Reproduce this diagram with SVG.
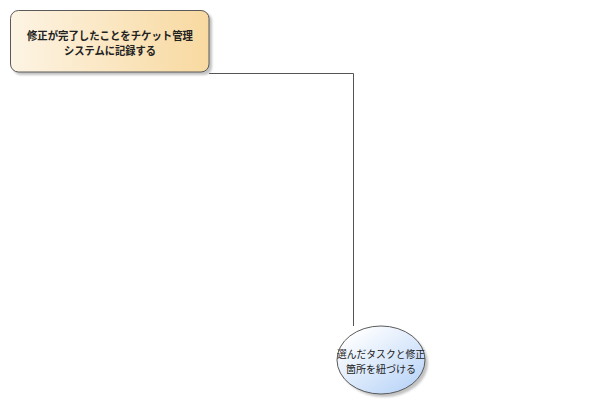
<svg xmlns="http://www.w3.org/2000/svg" width="608" height="406" viewBox="0 0 608 406">
<defs>
<linearGradient id="gAct" x1="0" y1="0" x2="1" y2="0">
<stop offset="0" stop-color="#fdf4e4"/>
<stop offset="1" stop-color="#f8d9a0"/>
</linearGradient>
<linearGradient id="gUC" x1="0.15" y1="0.1" x2="0.85" y2="0.9">
<stop offset="0" stop-color="#ffffff"/>
<stop offset="1" stop-color="#bcd6f8"/>
</linearGradient>
<filter id="sh" x="-10%" y="-10%" width="130%" height="130%">
<feGaussianBlur stdDeviation="1"/>
</filter>
<style>
.shadow{fill:#9a9a9a;opacity:0.6;filter:url(#sh)}
.box{fill:url(#gAct);stroke:#5a5a5a;stroke-width:1}
.uc{fill:url(#gUC);stroke:#5a5a5a;stroke-width:1}
.t{font-family:"Noto Sans CJK JP","Noto Sans",sans-serif;font-size:11px;fill:#222;text-anchor:middle}
.s{font-size:10.5px}
.b{font-weight:bold}
.conn{fill:none;stroke:#555;stroke-width:1}
</style>
</defs>
<rect width="608" height="406" fill="#ffffff"/>
<g id="connectors">
<polyline class="conn" points="209,73.5 353.5,73.5 353.5,326"/>
</g>
<g id="node1">
<rect class="shadow" x="13" y="13" width="199" height="62" rx="8"/>
<rect class="box" x="10.5" y="10.5" width="198.5" height="61.5" rx="8"/>
<text class="t b" x="110" y="40" textLength="166" lengthAdjust="spacingAndGlyphs">修正が完了したことをチケット管理</text>
<text class="t b" x="110" y="55" textLength="92" lengthAdjust="spacingAndGlyphs">システムに記録する</text>
</g>
<g id="node2">
<ellipse class="shadow" cx="384" cy="363" rx="44" ry="34"/>
<ellipse class="uc" cx="381" cy="360" rx="44" ry="34"/>
<text class="t s" x="381" y="358" textLength="88" lengthAdjust="spacingAndGlyphs">選んだタスクと修正</text>
<text class="t s" x="381" y="373" textLength="70" lengthAdjust="spacingAndGlyphs">箇所を紐づける</text>
</g>
</svg>
